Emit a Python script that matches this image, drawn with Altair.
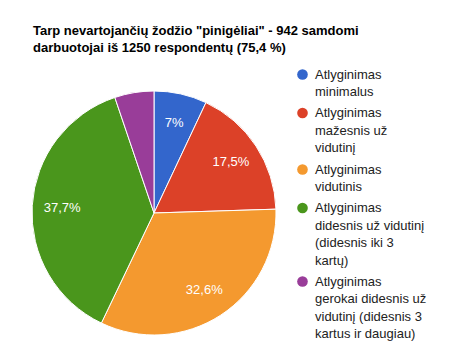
import altair as alt
import pandas as pd

categories = [
    "Atlyginimas|minimalus",
    "Atlyginimas|mažesnis už|vidutinį",
    "Atlyginimas|vidutinis",
    "Atlyginimas|didesnis už vidutinį|(didesnis iki 3|kartų)",
    "Atlyginimas|gerokai didesnis už|vidutinį (didesnis 3|kartus ir daugiau)",
]
percents = [7.0, 17.5, 32.6, 37.7, 5.2]
colors = ["#3366cc", "#dc4128", "#f4992f", "#4a961c", "#993d99"]
title_lines = [
    "Tarp nevartojančių žodžio \"pinigėliai\" - 942 samdomi",
    "darbuotojai iš 1250 respondentų (75,4 %)",
]

df = pd.DataFrame({"cat": categories, "pct": percents, "order": list(range(len(categories)))})

FONT = "Liberation Sans"
CX, CY, R = 121, 150, 122

base = alt.Chart(df).encode(
    theta=alt.Theta("pct:Q", stack=True),
    order=alt.Order("order:Q"),
)

pie = base.mark_arc(outerRadius=R, stroke="white", strokeWidth=1).encode(
    x=alt.value(CX),
    y=alt.value(CY),
    color=alt.Color(
        "cat:N",
        sort=categories,
        scale=alt.Scale(domain=categories, range=colors),
        legend=alt.Legend(
            title=None,
            orient="none",
            legendX=263,
            legendY=5,
            symbolType="circle",
            symbolSize=113,
            symbolStrokeWidth=0,
            labelFont=FONT,
            labelFontSize=13,
            labelColor="#222222",
            labelExpr="split(datum.label, '|')",
            labelLimit=300,
            labelOffset=6,
            rowPadding=7.5,
        ),
    ),
)

labels = base.transform_filter("datum.pct >= 6").transform_calculate(
    lbl="replace(format(datum.pct, '.1~f'), '.', ',') + '%'"
).mark_text(radius=92, font=FONT, fontSize=13, color="white").encode(
    x=alt.value(CX),
    y=alt.value(CY),
    text="lbl:N",
)

chart = alt.layer(pie, labels).properties(
    width=400,
    height=290,
    padding={"left": 25, "top": 55, "right": 0, "bottom": 0},
    autosize=alt.AutoSizeParams(type="none"),
    title=alt.TitleParams(
        text=title_lines,
        anchor="start",
        frame="group",
        font=FONT,
        fontSize=13,
        fontWeight="bold",
        color="#000000",
        lineHeight=17,
        offset=8,
    ),
).configure(
    view=alt.ViewConfig(stroke=None),
    style={"guide-label": {"lineHeight": 17.5}},
)

chart.save("out.html", embed_options={"renderer": "svg", "actions": False})
